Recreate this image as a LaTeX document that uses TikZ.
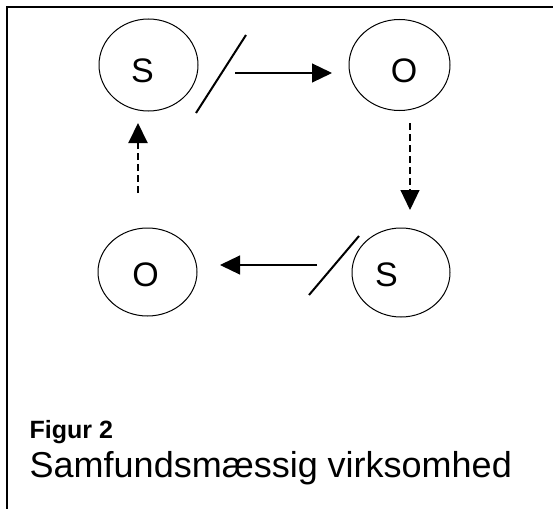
\documentclass[tikz,border=0pt]{standalone}
\usepackage{fontspec}
\setmainfont{Liberation Sans}
\usetikzlibrary{arrows.meta,shapes.geometric}
\tikzset{
  oval/.style={draw, ellipse, line width=1pt, inner sep=0pt},
  letter/.style={inner sep=0pt, font=\fontsize{34}{38}\selectfont},
  bar/.style={line width=2pt},
  flow/.style={line width=1.2pt, -{Triangle[length=20pt,width=19pt]}},
  dflow/.style={flow, dash pattern=on 7pt off 4pt},
}
\begin{document}
\begin{tikzpicture}[x=1pt,y=-1pt]
\useasboundingbox (0,0) rectangle (553,508);
% frame
\draw[line width=2pt] (7,510) -- (7,7) -- (555,7);
% ellipses
\node[oval, minimum width=99pt, minimum height=92pt] (S1) at (148.5,65) {};
\node[oval, minimum width=101pt, minimum height=91pt] (O1) at (399.5,65) {};
\node[oval, minimum width=99pt, minimum height=88pt] (O2) at (147.5,272) {};
\node[oval, minimum width=98pt, minimum height=89pt] (S2) at (401,272.5) {};
% letters
\node[letter] (tS1) at (142.5,70.5) {S};
\node[letter] (tO1) at (404,71) {O};
\node[letter] (tO2) at (145.5,274.5) {O};
\node[letter] (tS2) at (386.5,275) {S};
% slashes
\coordinate (b1a) at (196,113); \coordinate (b1b) at (246,35);
\coordinate (b2a) at (309,295); \coordinate (b2b) at (359,236);
\draw[bar] (b1a) -- (b1b);
\draw[bar] (b2a) -- (b2b);
% arrows
\coordinate (a1s) at (235,73); \coordinate (a1e) at (332,73);
\coordinate (a2s) at (410,123); \coordinate (a2e) at (410,210);
\coordinate (a3s) at (317,265); \coordinate (a3e) at (220,265);
\coordinate (a4s) at (138,193); \coordinate (a4e) at (138,123);
\draw[flow] (a1s) -- (a1e);
\draw[dflow] (a2s) -- (a2e);
\draw[flow] (a3s) -- (a3e);
\draw[dflow, line width=2pt] (a4s) -- (a4e);
% caption
\node[anchor=base west, inner sep=0pt, font=\bfseries\fontsize{25}{28}\selectfont] (fig) at (29.5,438) {Figur 2};
\node[anchor=base west, inner sep=0pt, font=\fontsize{36}{40}\selectfont] (cap) at (29.5,477) {Samfundsmæssig virksomhed};
\end{tikzpicture}
\end{document}
